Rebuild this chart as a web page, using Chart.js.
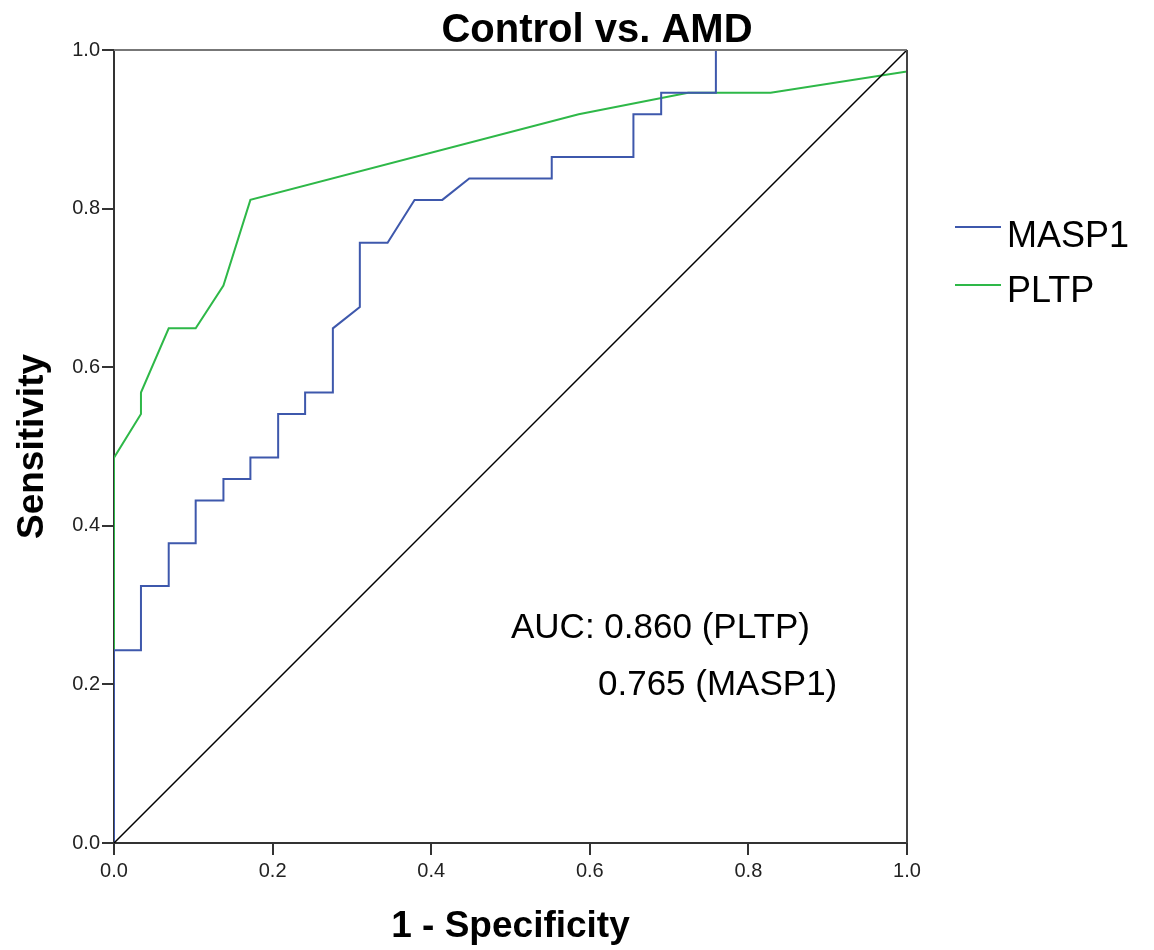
<!DOCTYPE html>
<html>
<head>
<meta charset="utf-8">
<title>Control vs. AMD</title>
<script src="https://cdn.jsdelivr.net/npm/chart.js@4.4.0/dist/chart.umd.min.js"></script>
<style>
  body { margin: 0; background: #fff; }
  #wrap { width: 1154px; height: 950px; }
</style>
</head>
<body>
<div id="wrap"><canvas id="roc" width="1154" height="950"></canvas></div>
<script>
// ROC curves (x = 1 - specificity, y = sensitivity)
const masp1X = [0, 0, 0.034, 0.034, 0.069, 0.069, 0.103, 0.103, 0.138, 0.138, 0.172, 0.172, 0.207, 0.207, 0.241, 0.241, 0.276, 0.276, 0.310, 0.310, 0.345, 0.379, 0.414, 0.448, 0.552, 0.552, 0.655, 0.655, 0.690, 0.690, 0.759, 0.759, 1];
const masp1Y = [0, 0.243, 0.243, 0.324, 0.324, 0.378, 0.378, 0.432, 0.432, 0.459, 0.459, 0.486, 0.486, 0.541, 0.541, 0.568, 0.568, 0.649, 0.676, 0.757, 0.757, 0.811, 0.811, 0.838, 0.838, 0.865, 0.865, 0.919, 0.919, 0.946, 0.946, 1, 1];

const pltpX = [0, 0, 0.034, 0.034, 0.069, 0.103, 0.138, 0.172, 0.586, 0.724, 0.828, 1, 1];
const pltpY = [0, 0.486, 0.541, 0.568, 0.649, 0.649, 0.703, 0.811, 0.919, 0.946, 0.946, 0.973, 1];

const refX = [0, 1];
const refY = [0, 1];

const tickValues = [0, 0.2, 0.4, 0.6, 0.8, 1.0];
const seriesNames = ["MASP1", "PLTP"];
const aucLines = ["AUC: 0.860 (PLTP)", "0.765 (MASP1)"];

const toPoints = (xs, ys) => xs.map((x, i) => ({ x: x, y: ys[i] }));

const FONT = "'Liberation Sans', Arial, sans-serif";

// frame, title, axis titles, legend and AUC note
const decorations = {
  id: "decorations",
  afterDraw(chart) {
    const ctx = chart.ctx;
    const a = chart.chartArea;
    ctx.save();

    // top and right frame lines
    ctx.lineWidth = 2;
    ctx.strokeStyle = "#777";
    ctx.beginPath();
    ctx.moveTo(a.left, a.top);
    ctx.lineTo(a.right, a.top);
    ctx.stroke();
    ctx.strokeStyle = "#444";
    ctx.beginPath();
    ctx.moveTo(a.right, a.top);
    ctx.lineTo(a.right, a.bottom);
    ctx.stroke();

    ctx.fillStyle = "#000";
    ctx.textBaseline = "alphabetic";

    // title
    ctx.font = "bold 40px " + FONT;
    ctx.textAlign = "center";
    ctx.fillText("Control vs. AMD", 597, 42);

    // x axis title
    ctx.font = "bold 37px " + FONT;
    ctx.fillText("1 - Specificity", (a.left + a.right) / 2, 937);

    // y axis title
    ctx.save();
    ctx.translate(43, (a.top + a.bottom) / 2);
    ctx.rotate(-Math.PI / 2);
    ctx.fillText("Sensitivity", 0, 0);
    ctx.restore();

    // legend
    ctx.textAlign = "left";
    ctx.font = "36px " + FONT;
    const legendRows = [[227, 247], [285, 302]];
    chart.data.datasets.forEach((ds, i) => {
      if (!seriesNames.includes(ds.label)) return;
      const row = legendRows[seriesNames.indexOf(ds.label)];
      ctx.strokeStyle = ds.borderColor;
      ctx.lineWidth = 2;
      ctx.beginPath();
      ctx.moveTo(955, row[0]);
      ctx.lineTo(1001, row[0]);
      ctx.stroke();
      ctx.fillStyle = "#000";
      ctx.fillText(ds.label, 1007, row[1]);
    });

    // AUC note
    ctx.font = "35px " + FONT;
    ctx.fillText(aucLines[0], 511, 638);
    ctx.fillText(aucLines[1], 598, 695);

    ctx.restore();
  }
};

new Chart(document.getElementById("roc"), {
  type: "line",
  data: {
    datasets: [
      {
        label: "Reference",
        data: toPoints(refX, refY),
        borderColor: "#000",
        borderWidth: 1.5,
        pointRadius: 0,
        fill: false,
        tension: 0
      },
      {
        label: seriesNames[0],
        data: toPoints(masp1X, masp1Y),
        borderColor: "#3e58ac",
        borderWidth: 2,
        pointRadius: 0,
        fill: false,
        tension: 0
      },
      {
        label: seriesNames[1],
        data: toPoints(pltpX, pltpY),
        borderColor: "#2eb848",
        borderWidth: 2,
        pointRadius: 0,
        fill: false,
        tension: 0
      }
    ]
  },
  options: {
    responsive: false,
    animation: false,
    layout: { padding: { top: 50, right: 247, left: 0, bottom: 0 } },
    plugins: {
      legend: { display: false },
      title: { display: false },
      tooltip: { enabled: false }
    },
    scales: {
      x: {
        type: "linear",
        min: 0,
        max: 1,
        afterBuildTicks: scale => { scale.ticks = tickValues.map(v => ({ value: v })); },
        afterFit: scale => { scale.height = 107; },
        ticks: {
          callback: v => v.toFixed(1),
          color: "#222",
          font: { family: FONT, size: 20 },
          padding: 4,
          maxRotation: 0
        },
        grid: { drawOnChartArea: false, tickLength: 12, color: "#333", lineWidth: 2 },
        border: { color: "#333", width: 2 }
      },
      y: {
        type: "linear",
        min: 0,
        max: 1,
        afterBuildTicks: scale => { scale.ticks = tickValues.map(v => ({ value: v })); },
        afterFit: scale => { scale.width = 114; },
        ticks: {
          callback: v => v.toFixed(1),
          color: "#222",
          font: { family: FONT, size: 20 },
          padding: 2
        },
        grid: { drawOnChartArea: false, tickLength: 12, color: "#333", lineWidth: 2 },
        border: { color: "#333", width: 2 }
      }
    }
  },
  plugins: [decorations]
});
</script>
</body>
</html>
